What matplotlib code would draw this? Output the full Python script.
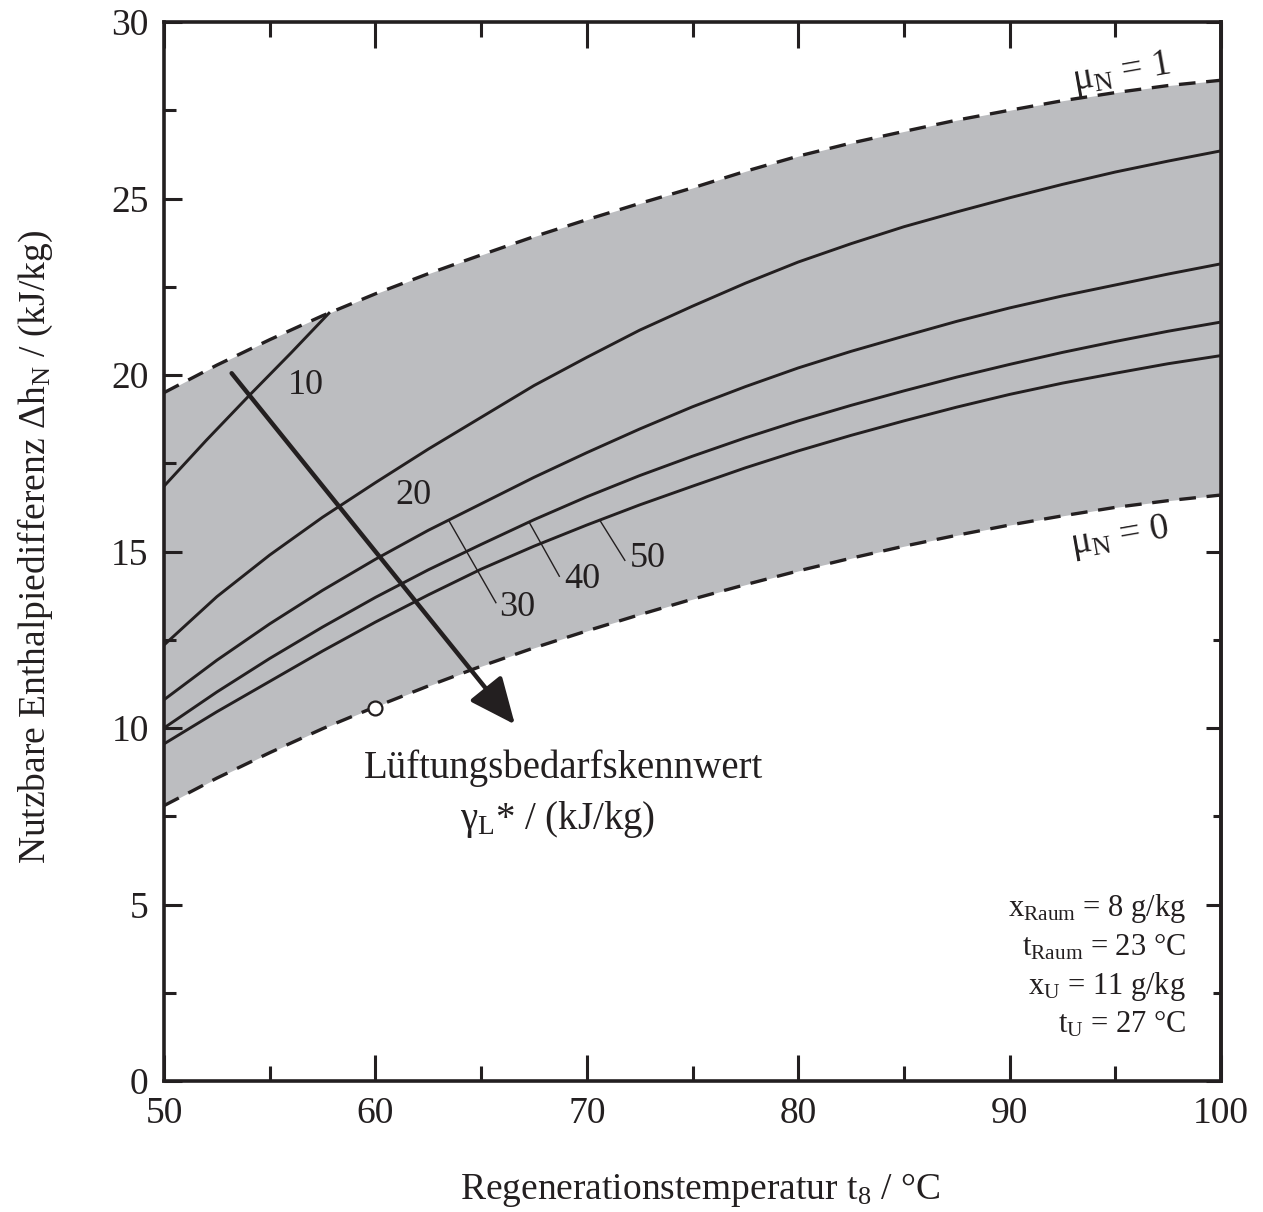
import numpy as np
import matplotlib
matplotlib.use("Agg")
import matplotlib.pyplot as plt

plt.rcParams['font.family'] = ['Liberation Serif', 'DejaVu Serif']
plt.rcParams['mathtext.fontset'] = 'custom'
plt.rcParams['mathtext.rm'] = 'Liberation Serif'
plt.rcParams['mathtext.it'] = 'Liberation Serif:italic'

# ---- data ----
t8 = [50, 52.5, 55, 57.5, 60, 62.5, 65, 67.5, 70, 72.5, 75, 77.5, 80, 82.5, 85,
      87.5, 90, 92.5, 95, 97.5, 100]
mu_upper = [19.5, 20.28, 21.0, 21.68, 22.3, 22.87, 23.4, 23.92, 24.4, 24.86, 25.3,
            25.77, 26.2, 26.57, 26.9, 27.22, 27.5, 27.77, 28.0, 28.2, 28.35]      # mu_N = 1
mu_lower = [7.8, 8.58, 9.3, 9.98, 10.6, 11.19, 11.75, 12.27, 12.75, 13.21, 13.65,
            14.06, 14.45, 14.81, 15.15, 15.46, 15.75, 16.01, 16.25, 16.44, 16.6]  # mu_N = 0
g20 = [12.35, 13.72, 14.9, 15.97, 16.95, 17.9, 18.8, 19.7, 20.5, 21.27, 21.95,
       22.6, 23.2, 23.72, 24.2, 24.62, 25.02, 25.4, 25.75, 26.06, 26.35]
g30 = [10.8, 11.92, 12.95, 13.9, 14.78, 15.6, 16.35, 17.1, 17.8, 18.47, 19.1,
       19.67, 20.2, 20.67, 21.1, 21.52, 21.9, 22.24, 22.55, 22.86, 23.15]
g40 = [10.0, 11.02, 11.97, 12.86, 13.7, 14.48, 15.2, 15.9, 16.55, 17.15, 17.7,
       18.22, 18.7, 19.14, 19.55, 19.94, 20.3, 20.64, 20.95, 21.24, 21.5]
g50 = [9.55, 10.46, 11.32, 12.18, 13.0, 13.77, 14.5, 15.15, 15.75, 16.32, 16.85,
       17.37, 17.85, 18.29, 18.7, 19.09, 19.45, 19.77, 20.05, 20.32, 20.55]
t8_g10 = [50, 52, 54, 56, 57.8]
g10 = [16.85, 18.15, 19.4, 20.62, 21.75]
point_t, point_h = 60, 10.57

xticks = [50, 60, 70, 80, 90, 100]
yticks = [0, 5, 10, 15, 20, 25, 30]

INK = '#231f20'
GREY = '#bcbdc0'

fig = plt.figure(figsize=(12.63, 12.12), dpi=100)
ax = fig.add_axes([164/1263, 1 - 1081/1212, (1221-164)/1263, (1081-22)/1212])

ax.fill_between(t8, mu_lower, mu_upper, color=GREY, lw=0, zorder=1)
for y in (mu_upper, mu_lower):
    ax.plot(t8, y, color=INK, lw=2.4, ls=(0, (5, 3.2)), zorder=3)
for y in (g20, g30, g40, g50):
    ax.plot(t8, y, color=INK, lw=2.1, zorder=3, solid_joinstyle='round')
ax.plot(t8_g10, g10, color=INK, lw=2.1, zorder=3)

ax.plot([point_t], [point_h], 'o', ms=10, mfc='white', mec=INK, mew=1.6, zorder=5, clip_on=False)

# direction arrow
ax.annotate('', xy=(66.6, 10.1), xytext=(53.2, 20.05),
            arrowprops=dict(arrowstyle='-|>,head_length=0.95,head_width=0.42',
                            lw=3.2, color=INK, mutation_scale=30, shrinkA=0, shrinkB=0),
            zorder=6)

fs = 27
cfs = 26
# curve labels
ax.text(56.7, 19.7, '10', fontsize=cfs, ha='center', va='center', color=INK, zorder=7)
ax.text(61.8, 16.6, '20', fontsize=cfs, ha='center', va='center', color=INK, zorder=7)
ax.text(66.7, 13.4, '30', fontsize=cfs, ha='center', va='center', color=INK, zorder=7)
ax.text(69.8, 14.2, '40', fontsize=cfs, ha='center', va='center', color=INK, zorder=7)
ax.text(72.9, 14.8, '50', fontsize=cfs, ha='center', va='center', color=INK, zorder=7)
ax.plot([63.5, 65.7], [15.85, 13.55], color=INK, lw=1.0, zorder=4)
ax.plot([67.3, 68.7], [15.8, 14.3], color=INK, lw=1.0, zorder=4)
ax.plot([70.6, 71.8], [15.9, 14.75], color=INK, lw=1.0, zorder=4)

ax.text(95.3, 28.55, r'μ$_\mathrm{N}$ = 1', fontsize=fs, ha='center', va='center',
        rotation=10, color=INK)
ax.text(95.2, 15.4, r'μ$_\mathrm{N}$ = 0', fontsize=fs, ha='center', va='center',
        rotation=10, color=INK)

ax.text(68.9, 8.85, 'Lüftungsbedarfskennwert', fontsize=28, ha='center', va='center', color=INK)
ax.text(68.6, 7.4, r'γ$_\mathrm{L}$* / (kJ/kg)', fontsize=28, ha='center', va='center', color=INK)

pfs = 22
px = 98.35
ax.text(px, 4.9, r'x$_\mathrm{Raum}$ = 8 g/kg', fontsize=pfs, ha='right', va='center', color=INK)
ax.text(px, 3.8, r't$_\mathrm{Raum}$ = 23 °C', fontsize=pfs, ha='right', va='center', color=INK)
ax.text(px, 2.68, r'x$_\mathrm{U}$ = 11 g/kg', fontsize=pfs, ha='right', va='center', color=INK)
ax.text(px, 1.6, r't$_\mathrm{U}$ = 27 °C', fontsize=pfs, ha='right', va='center', color=INK)

ax.set_xlim(50, 100)
ax.set_ylim(0, 30)
ax.set_xticks(xticks)
ax.set_yticks(yticks)
ax.set_xticks(np.arange(50, 101, 5), minor=True)
ax.set_yticks(np.arange(0, 30.1, 2.5), minor=True)

for s in ax.spines.values():
    s.set_linewidth(2.6)
    s.set_color(INK)

ax.tick_params(axis='x', which='major', direction='in', length=19, width=2.2,
               top=True, bottom=True, labelsize=fs, pad=11, colors=INK)
ax.tick_params(axis='x', which='minor', direction='in', length=11, width=2.2,
               top=True, bottom=True, colors=INK)
ax.tick_params(axis='y', which='major', direction='in', length=13, width=2.2,
               left=True, right=False, labelsize=fs, pad=11, colors=INK)
ax.tick_params(axis='y', which='minor', direction='in', length=8.5, width=2.2,
               left=True, right=False, colors=INK)

sec = ax.secondary_yaxis('right')
sec.set_yticks(yticks)
sec.set_yticks(np.arange(0, 30.1, 2.5), minor=True)
sec.set_yticklabels([])
sec.spines['right'].set_linewidth(2.6)
sec.spines['right'].set_color(INK)
sec.tick_params(which='major', direction='in', length=11, width=2.2, colors=INK)
sec.tick_params(which='minor', direction='in', length=6, width=2.2, colors=INK)

fig.text(35/1263, 1 - 547/1212, r'Nutzbare Enthalpiedifferenz Δh$_\mathrm{N}$ / (kJ/kg)',
         fontsize=fs, rotation=90, ha='center', va='center', color=INK)
fig.text(700/1263, 1 - 1190/1212, r'Regenerationstemperatur t$_8$ / °C',
         fontsize=fs, ha='center', va='center', color=INK)

fig.savefig('out.png', dpi=100)
